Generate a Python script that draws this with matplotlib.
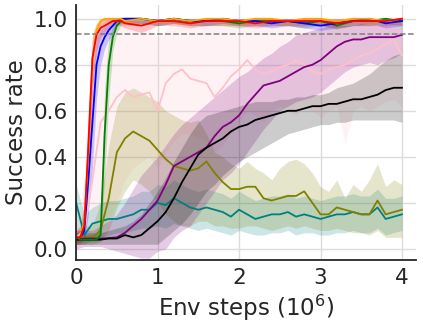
import matplotlib
matplotlib.use("Agg")
from matplotlib import pyplot as plt

# x grids (env steps, 1e6)
fast_x = [0, 0.05, 0.1, 0.15, 0.2, 0.25, 0.3, 0.35, 0.4, 0.45, 0.5, 0.55, 0.6, 0.8, 1.0,
          1.2, 1.4, 1.6, 1.8, 2.0, 2.2, 2.4, 2.6, 2.8, 3.0, 3.2, 3.4, 3.6, 3.8, 4.0]
slow_x = [0, 0.1, 0.2, 0.3, 0.4, 0.5, 0.6, 0.7, 0.8, 0.9, 1.0, 1.1, 1.2, 1.3, 1.4, 1.5, 1.6,
          1.7, 1.8, 1.9, 2.0, 2.1, 2.2, 2.3, 2.4, 2.5, 2.6, 2.7, 2.8, 2.9, 3.0, 3.1, 3.2, 3.3,
          3.4, 3.5, 3.6, 3.7, 3.8, 3.9, 4.0]

# fast learners
orange_mean = [0.05, 0.05, 0.12, 0.42, 0.82, 0.95, 0.99, 1.0, 1.0, 1.0, 1.0, 1.0, 0.99, 1.0, 0.99,
               1.0, 0.99, 1.0, 1.0, 0.99, 1.0, 1.0, 0.99, 1.0, 1.0, 0.99, 1.0, 1.0, 0.99, 1.0]
orange_lo = [0.03, 0.03, 0.06, 0.3, 0.7, 0.9, 0.97, 0.98, 0.98, 0.98, 0.98, 0.98, 0.97, 0.98, 0.97,
             0.98, 0.97, 0.98, 0.98, 0.97, 0.98, 0.98, 0.97, 0.98, 0.98, 0.97, 0.98, 0.98, 0.97, 0.98]
orange_hi = [0.07, 0.08, 0.2, 0.55, 0.92, 0.99, 1.0, 1.0, 1.0, 1.0, 1.0, 1.0, 1.0, 1.0, 1.0,
             1.0, 1.0, 1.0, 1.0, 1.0, 1.0, 1.0, 1.0, 1.0, 1.0, 1.0, 1.0, 1.0, 1.0, 1.0]

red_mean = [0.05, 0.05, 0.1, 0.45, 0.83, 0.93, 0.96, 0.97, 0.98, 0.99, 0.99, 0.99, 0.98, 0.97, 0.99,
            0.99, 0.98, 0.99, 0.99, 0.99, 0.98, 0.99, 0.99, 0.99, 0.99, 0.98, 0.99, 0.99, 0.99, 1.0]
red_lo = [0.02, 0.02, 0.05, 0.3, 0.7, 0.86, 0.92, 0.94, 0.96, 0.97, 0.97, 0.97, 0.96, 0.94, 0.97,
          0.97, 0.96, 0.97, 0.97, 0.97, 0.96, 0.97, 0.97, 0.97, 0.97, 0.96, 0.97, 0.97, 0.97, 0.98]
red_hi = [0.08, 0.1, 0.2, 0.6, 0.93, 0.98, 0.99, 1.0, 1.0, 1.0, 1.0, 1.0, 1.0, 0.99, 1.0,
          1.0, 1.0, 1.0, 1.0, 1.0, 1.0, 1.0, 1.0, 1.0, 1.0, 1.0, 1.0, 1.0, 1.0, 1.0]

blue_mean = [0.05, 0.05, 0.08, 0.3, 0.55, 0.8, 0.88, 0.92, 0.95, 0.97, 0.99, 1.0, 1.0, 1.0, 0.99,
             1.0, 0.99, 0.99, 1.0, 0.99, 0.99, 0.98, 0.99, 0.98, 0.97, 0.98, 0.99, 1.0, 0.98, 0.99]
blue_lo = [0.03, 0.03, 0.04, 0.15, 0.35, 0.65, 0.8, 0.87, 0.91, 0.94, 0.97, 0.98, 0.98, 0.98, 0.97,
           0.98, 0.97, 0.97, 0.98, 0.97, 0.97, 0.96, 0.97, 0.96, 0.95, 0.96, 0.97, 0.98, 0.96, 0.97]
blue_hi = [0.07, 0.08, 0.15, 0.45, 0.75, 0.92, 0.95, 0.97, 0.99, 1.0, 1.0, 1.0, 1.0, 1.0, 1.0,
           1.0, 1.0, 1.0, 1.0, 1.0, 1.0, 1.0, 1.0, 1.0, 0.99, 1.0, 1.0, 1.0, 1.0, 1.0]

green_mean = [0.05, 0.04, 0.04, 0.04, 0.04, 0.04, 0.06, 0.5, 0.8, 0.92, 0.97, 0.99, 1.0, 1.0, 0.99,
              1.0, 0.99, 0.99, 0.99, 0.98, 0.99, 0.99, 0.99, 0.98, 0.99, 0.97, 0.99, 0.99, 1.0, 0.99]
green_lo = [0.03, 0.03, 0.03, 0.03, 0.03, 0.03, 0.04, 0.3, 0.65, 0.86, 0.94, 0.97, 0.98, 0.98, 0.97,
            0.98, 0.97, 0.97, 0.97, 0.96, 0.97, 0.97, 0.97, 0.96, 0.97, 0.955, 0.97, 0.97, 0.98, 0.97]
green_hi = [0.07, 0.06, 0.06, 0.06, 0.06, 0.07, 0.12, 0.7, 0.92, 0.97, 0.99, 1.0, 1.0, 1.0, 1.0,
            1.0, 1.0, 1.0, 1.0, 1.0, 1.0, 1.0, 1.0, 1.0, 1.0, 0.99, 1.0, 1.0, 1.0, 1.0]

# slower learners
pink_mean = [0.05, 0.08, 0.3, 0.55, 0.6, 0.66, 0.69, 0.66, 0.67, 0.68, 0.6, 0.72, 0.76, 0.78, 0.74,
             0.73, 0.72, 0.66, 0.7, 0.75, 0.78, 0.82, 0.78, 0.76, 0.77, 0.79, 0.8, 0.82, 0.8, 0.77,
             0.76, 0.78, 0.79, 0.8, 0.82, 0.84, 0.85, 0.87, 0.89, 0.91, 0.84]
pink_lo = [0.02, 0.03, 0.05, 0.08, 0.12, 0.2, 0.3, 0.35, 0.38, 0.4, 0.35, 0.42, 0.47, 0.5, 0.5,
           0.48, 0.47, 0.42, 0.45, 0.5, 0.55, 0.6, 0.58, 0.55, 0.6, 0.62, 0.6, 0.58, 0.62, 0.6,
           0.57, 0.6, 0.62, 0.45, 0.6, 0.62, 0.6, 0.62, 0.64, 0.65, 0.62]
pink_hi = [0.1, 0.3, 0.9, 1.0, 1.0, 1.0, 1.0, 1.0, 1.0, 0.97, 0.92, 0.95, 1.0, 1.0, 0.98,
           0.96, 1.0, 0.98, 0.99, 1.0, 1.0, 1.0, 1.0, 1.0, 1.0, 1.0, 1.0, 1.0, 1.0, 1.0,
           1.0, 1.0, 1.0, 1.0, 1.0, 1.0, 1.0, 1.0, 1.0, 1.0, 1.0]

olive_mean = [0.05, 0.05, 0.05, 0.08, 0.22, 0.42, 0.48, 0.51, 0.49, 0.47, 0.43, 0.39, 0.36, 0.35,
              0.34, 0.35, 0.38, 0.33, 0.29, 0.26, 0.26, 0.27, 0.27, 0.22, 0.21, 0.22, 0.23, 0.23,
              0.25, 0.2, 0.15, 0.15, 0.18, 0.17, 0.16, 0.15, 0.15, 0.21, 0.15, 0.16, 0.17]
olive_lo = [0.02, 0.02, 0.02, 0.03, 0.08, 0.18, 0.25, 0.3, 0.28, 0.25, 0.2, 0.15, 0.12, 0.1,
            0.1, 0.12, 0.12, 0.1, 0.1, 0.09, 0.09, 0.1, 0.1, 0.09, 0.08, 0.09, 0.1, 0.09,
            0.1, 0.09, 0.08, 0.08, 0.09, 0.08, 0.07, 0.07, 0.06, 0.08, 0.05, 0.05, 0.05]
olive_hi = [0.08, 0.1, 0.1, 0.2, 0.45, 0.62, 0.68, 0.7, 0.68, 0.66, 0.64, 0.6, 0.58, 0.56,
            0.55, 0.56, 0.5, 0.42, 0.4, 0.37, 0.35, 0.38, 0.35, 0.33, 0.3, 0.35, 0.38, 0.39,
            0.37, 0.33, 0.27, 0.25, 0.3, 0.22, 0.28, 0.25, 0.3, 0.37, 0.27, 0.3, 0.28]

teal_mean = [0.2, 0.06, 0.11, 0.12, 0.13, 0.13, 0.14, 0.15, 0.17, 0.17, 0.2, 0.19, 0.22, 0.2, 0.18,
             0.17, 0.18, 0.17, 0.16, 0.14, 0.17, 0.15, 0.13, 0.14, 0.15, 0.15, 0.16, 0.14, 0.15,
             0.14, 0.13, 0.14, 0.15, 0.15, 0.16, 0.15, 0.15, 0.18, 0.13, 0.14, 0.15]
teal_lo = [0.02, 0.02, 0.04, 0.05, 0.06, 0.07, 0.07, 0.08, 0.09, 0.09, 0.1, 0.09, 0.11, 0.1, 0.09,
           0.08, 0.09, 0.08, 0.07, 0.06, 0.08, 0.07, 0.06, 0.06, 0.07, 0.07, 0.08, 0.06, 0.07,
           0.07, 0.06, 0.06, 0.07, 0.07, 0.08, 0.07, 0.07, 0.09, 0.06, 0.07, 0.08]
teal_hi = [0.28, 0.15, 0.18, 0.2, 0.21, 0.21, 0.22, 0.23, 0.25, 0.25, 0.28, 0.27, 0.3, 0.28, 0.26,
           0.25, 0.26, 0.25, 0.24, 0.22, 0.25, 0.23, 0.21, 0.22, 0.23, 0.23, 0.24, 0.22, 0.23,
           0.22, 0.21, 0.22, 0.23, 0.23, 0.24, 0.23, 0.23, 0.26, 0.22, 0.22, 0.23]

purple_mean = [0.04, 0.045, 0.045, 0.045, 0.047, 0.05, 0.07, 0.1, 0.13, 0.17, 0.21, 0.28, 0.36,
               0.38, 0.4, 0.42, 0.44, 0.49, 0.53, 0.55, 0.58, 0.63, 0.67, 0.71, 0.72, 0.73, 0.75,
               0.77, 0.79, 0.8, 0.82, 0.85, 0.88, 0.9, 0.91, 0.91, 0.92, 0.92, 0.92, 0.92, 0.93]
purple_lo = [0.0, 0.01, 0.01, 0.01, 0.0, -0.01, -0.02, -0.03, -0.04, -0.04, -0.01, 0.0, 0.05,
             0.08, 0.1, 0.15, 0.2, 0.25, 0.3, 0.33, 0.37, 0.42, 0.47, 0.52, 0.56, 0.6, 0.62,
             0.64, 0.65, 0.66, 0.68, 0.71, 0.74, 0.77, 0.79, 0.8, 0.81, 0.8, 0.82, 0.83, 0.85]
purple_hi = [0.08, 0.08, 0.08, 0.1, 0.12, 0.15, 0.2, 0.26, 0.32, 0.36, 0.4, 0.45, 0.5, 0.54,
             0.57, 0.6, 0.63, 0.66, 0.69, 0.72, 0.75, 0.77, 0.8, 0.83, 0.85, 0.88, 0.9, 0.93,
             0.94, 0.95, 0.96, 0.97, 0.97, 0.97, 0.97, 0.98, 0.98, 0.97, 0.98, 0.98, 0.98]

black_mean = [0.04, 0.04, 0.04, 0.04, 0.045, 0.045, 0.06, 0.05, 0.06, 0.09, 0.12, 0.16, 0.22,
              0.29, 0.35, 0.41, 0.44, 0.46, 0.48, 0.51, 0.53, 0.54, 0.56, 0.57, 0.58, 0.59, 0.6,
              0.6, 0.61, 0.62, 0.62, 0.63, 0.63, 0.64, 0.65, 0.65, 0.66, 0.67, 0.69, 0.7, 0.7]
black_lo = [0.02, 0.02, 0.02, 0.02, 0.02, 0.02, 0.02, 0.02, 0.02, 0.02, 0.02, 0.05, 0.08,
            0.11, 0.15, 0.2, 0.25, 0.28, 0.32, 0.35, 0.38, 0.4, 0.42, 0.44, 0.46, 0.48, 0.5,
            0.51, 0.52, 0.53, 0.54, 0.54, 0.55, 0.55, 0.56, 0.56, 0.56, 0.56, 0.56, 0.56, 0.55]
black_hi = [0.07, 0.07, 0.07, 0.07, 0.08, 0.09, 0.1, 0.12, 0.15, 0.2, 0.25, 0.31, 0.38,
            0.44, 0.5, 0.55, 0.58, 0.59, 0.6, 0.61, 0.62, 0.63, 0.64, 0.64, 0.64, 0.65, 0.65,
            0.66, 0.66, 0.67, 0.67, 0.68, 0.7, 0.71, 0.72, 0.74, 0.76, 0.79, 0.82, 0.84, 0.85]

threshold = 0.935

series = [
    (slow_x, pink_mean, pink_lo, pink_hi, "pink"),
    (slow_x, teal_mean, teal_lo, teal_hi, "teal"),
    (slow_x, olive_mean, olive_lo, olive_hi, "olive"),
    (slow_x, purple_mean, purple_lo, purple_hi, "purple"),
    (slow_x, black_mean, black_lo, black_hi, "black"),
    (fast_x, green_mean, green_lo, green_hi, "green"),
    (fast_x, blue_mean, blue_lo, blue_hi, "blue"),
    (fast_x, orange_mean, orange_lo, orange_hi, "orange"),
    (fast_x, red_mean, red_lo, red_hi, "red"),
]

plt.rcParams["font.family"] = "DejaVu Sans"
fig = plt.figure(figsize=(4.23, 3.29), dpi=100)
ax = fig.add_axes([0.18, 0.21, 0.803, 0.775])

for x, m, lo, hi, c in series:
    ax.fill_between(x, lo, hi, color=c, alpha=0.2, linewidth=0)
    ax.plot(x, m, color=c, linewidth=1.3)

ax.axhline(threshold, color="gray", linestyle="--", linewidth=1.1)

ax.set_xlim(0, 4.17)
ax.set_ylim(-0.048, 1.06)
ax.set_xticks([0, 1, 2, 3, 4])
ax.set_yticks([0.0, 0.2, 0.4, 0.6, 0.8, 1.0])
ax.set_yticklabels(["0.0", "0.2", "0.4", "0.6", "0.8", "1.0"])
ax.grid(True, color="#dcdcdc", linewidth=1.0)
ax.set_axisbelow(True)
ax.tick_params(length=0, labelsize=15.5, colors="#262626", pad=6)
for s in ["top", "right"]:
    ax.spines[s].set_visible(False)
for s in ["left", "bottom"]:
    ax.spines[s].set_color("#262626")
    ax.spines[s].set_linewidth(1.3)
ax.set_xlabel("Env steps ($10^6$)", fontsize=16.5, color="#262626", labelpad=3)
ax.set_ylabel("Success rate", fontsize=16.5, color="#262626", labelpad=4)

fig.savefig("out.png", dpi=100)
